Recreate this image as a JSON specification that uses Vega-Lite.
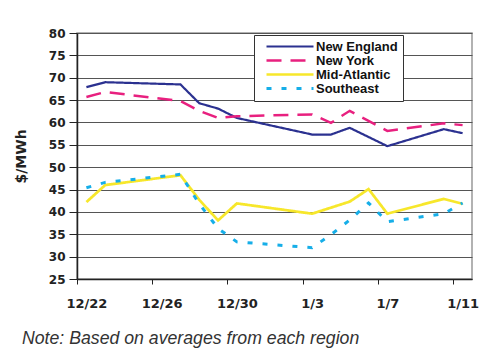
{
  "$schema": "https://vega.github.io/schema/vega-lite/v6.json",
  "autosize": {"type": "none"},
  "padding": {"left": 77, "top": 33, "right": 13, "bottom": 73},
  "width": 395,
  "height": 246,
  "background": "white",
  "config": {
    "font": "Liberation Sans",
    "view": {"stroke": "#999999", "strokeWidth": 1.5},
    "legend": {
      "title": null,
      "orient": "none",
      "legendX": 177,
      "legendY": 2,
      "direction": "vertical",
      "fillColor": "white",
      "strokeColor": "#333333",
      "padding": 5,
      "symbolType": "M-1,0H8.4",
      "symbolSize": 100,
      "symbolOffset": 6,
      "labelFont": "Liberation Sans",
      "labelFontSize": 13,
      "labelFontWeight": "bold",
      "labelColor": "#111111",
      "labelOffset": 38,
      "rowPadding": 0
    }
  },
  "title": {
    "text": "Note: Based on averages from each region",
    "orient": "bottom",
    "anchor": "start",
    "frame": "group",
    "dx": -55,
    "offset": 20,
    "font": "Liberation Sans",
    "fontSize": 17.7,
    "fontStyle": "italic",
    "fontWeight": "normal",
    "color": "#333333"
  },
  "data": {
    "values": [
      {"date": "2007-12-22", "region": "New England", "price": 67.9},
      {"date": "2007-12-23", "region": "New England", "price": 69.0},
      {"date": "2007-12-27", "region": "New England", "price": 68.5},
      {"date": "2007-12-28", "region": "New England", "price": 64.3},
      {"date": "2007-12-29", "region": "New England", "price": 63.1},
      {"date": "2007-12-30", "region": "New England", "price": 61.0},
      {"date": "2008-01-03", "region": "New England", "price": 57.3},
      {"date": "2008-01-04", "region": "New England", "price": 57.3},
      {"date": "2008-01-05", "region": "New England", "price": 58.8},
      {"date": "2008-01-07", "region": "New England", "price": 54.7},
      {"date": "2008-01-10", "region": "New England", "price": 58.5},
      {"date": "2008-01-11", "region": "New England", "price": 57.6},
      {"date": "2007-12-22", "region": "New York", "price": 65.7},
      {"date": "2007-12-23", "region": "New York", "price": 66.8},
      {"date": "2007-12-27", "region": "New York", "price": 64.8},
      {"date": "2007-12-28", "region": "New York", "price": 62.6},
      {"date": "2007-12-29", "region": "New York", "price": 61.0},
      {"date": "2007-12-30", "region": "New York", "price": 61.4},
      {"date": "2008-01-03", "region": "New York", "price": 61.8},
      {"date": "2008-01-04", "region": "New York", "price": 59.9},
      {"date": "2008-01-05", "region": "New York", "price": 62.6},
      {"date": "2008-01-07", "region": "New York", "price": 58.1},
      {"date": "2008-01-10", "region": "New York", "price": 59.8},
      {"date": "2008-01-11", "region": "New York", "price": 59.4},
      {"date": "2007-12-22", "region": "Mid-Atlantic", "price": 42.2},
      {"date": "2007-12-23", "region": "Mid-Atlantic", "price": 46.0},
      {"date": "2007-12-27", "region": "Mid-Atlantic", "price": 48.2},
      {"date": "2007-12-28", "region": "Mid-Atlantic", "price": 42.7},
      {"date": "2007-12-29", "region": "Mid-Atlantic", "price": 38.1},
      {"date": "2007-12-30", "region": "Mid-Atlantic", "price": 41.9},
      {"date": "2008-01-03", "region": "Mid-Atlantic", "price": 39.6},
      {"date": "2008-01-05", "region": "Mid-Atlantic", "price": 42.3},
      {"date": "2008-01-06", "region": "Mid-Atlantic", "price": 45.1},
      {"date": "2008-01-07", "region": "Mid-Atlantic", "price": 39.6},
      {"date": "2008-01-10", "region": "Mid-Atlantic", "price": 42.9},
      {"date": "2008-01-11", "region": "Mid-Atlantic", "price": 41.8},
      {"date": "2007-12-22", "region": "Southeast", "price": 45.4},
      {"date": "2007-12-23", "region": "Southeast", "price": 46.6},
      {"date": "2007-12-27", "region": "Southeast", "price": 48.4},
      {"date": "2007-12-28", "region": "Southeast", "price": 41.8},
      {"date": "2007-12-29", "region": "Southeast", "price": 36.3},
      {"date": "2007-12-30", "region": "Southeast", "price": 33.3},
      {"date": "2008-01-03", "region": "Southeast", "price": 32.0},
      {"date": "2008-01-04", "region": "Southeast", "price": 34.9},
      {"date": "2008-01-05", "region": "Southeast", "price": 38.2},
      {"date": "2008-01-06", "region": "Southeast", "price": 42.0},
      {"date": "2008-01-07", "region": "Southeast", "price": 37.8},
      {"date": "2008-01-10", "region": "Southeast", "price": 39.6},
      {"date": "2008-01-11", "region": "Southeast", "price": 42.0}
    ]
  },
  "mark": {"type": "line", "clip": true},
  "encoding": {
    "x": {
      "field": "date",
      "type": "temporal",
      "scale": {
        "type": "utc",
        "domain": [
          {"year": 2007, "month": 12, "date": 21, "hours": 12, "utc": true},
          {"year": 2008, "month": 1, "date": 11, "hours": 12, "utc": true}
        ]
      },
      "axis": {
        "title": null,
        "values": [
          {"year": 2007, "month": 12, "date": 22, "utc": true},
          {"year": 2007, "month": 12, "date": 26, "utc": true},
          {"year": 2007, "month": 12, "date": 30, "utc": true},
          {"year": 2008, "month": 1, "date": 3, "utc": true},
          {"year": 2008, "month": 1, "date": 7, "utc": true},
          {"year": 2008, "month": 1, "date": 11, "utc": true}
        ],
        "labelExpr": "utcFormat(datum.value, '%-m/%-d')",
        "grid": false,
        "tickOffset": -9.4,
        "labelOffset": 9.4,
        "tickSize": 5,
        "tickColor": "#222222",
        "domainColor": "#222222",
        "domainWidth": 1.5,
        "labelFont": "DejaVu Sans",
        "labelFontSize": 13,
        "labelFontWeight": "bold",
        "labelColor": "#222222",
        "labelPadding": 13,
        "labelFlush": false,
        "labelOverlap": false
      }
    },
    "y": {
      "field": "price",
      "type": "quantitative",
      "scale": {"domain": [25, 80], "nice": false, "zero": false},
      "axis": {
        "title": "$/MWh",
        "titleFont": "DejaVu Sans",
        "titleFontSize": 14,
        "titleFontWeight": "bold",
        "titleColor": "#222222",
        "titlePadding": 20,
        "values": [25, 30, 35, 40, 45, 50, 55, 60, 65, 70, 75, 80],
        "tickSize": 8,
        "tickColor": "#222222",
        "domainColor": "#222222",
        "domainWidth": 1.5,
        "gridColor": "#555555",
        "gridWidth": 1.2,
        "labelFont": "DejaVu Sans",
        "labelFontSize": 12,
        "labelFontWeight": "bold",
        "labelColor": "#222222",
        "labelPadding": 4
      }
    },
    "color": {
      "field": "region",
      "type": "nominal",
      "scale": {
        "domain": ["New England", "New York", "Mid-Atlantic", "Southeast"],
        "range": ["#2b3190", "#e8207f", "#f7e72b", "#16aee8"]
      },
      "legend": {}
    },
    "strokeDash": {
      "field": "region",
      "type": "nominal",
      "scale": {
        "domain": ["New England", "New York", "Mid-Atlantic", "Southeast"],
        "range": [[1, 0], [15, 9], [1, 0], [5, 10]]
      },
      "legend": {}
    },
    "strokeWidth": {
      "field": "region",
      "type": "nominal",
      "scale": {
        "domain": ["New England", "New York", "Mid-Atlantic", "Southeast"],
        "range": [2.2, 3, 2.6, 3.2]
      },
      "legend": {}
    }
  }
}
